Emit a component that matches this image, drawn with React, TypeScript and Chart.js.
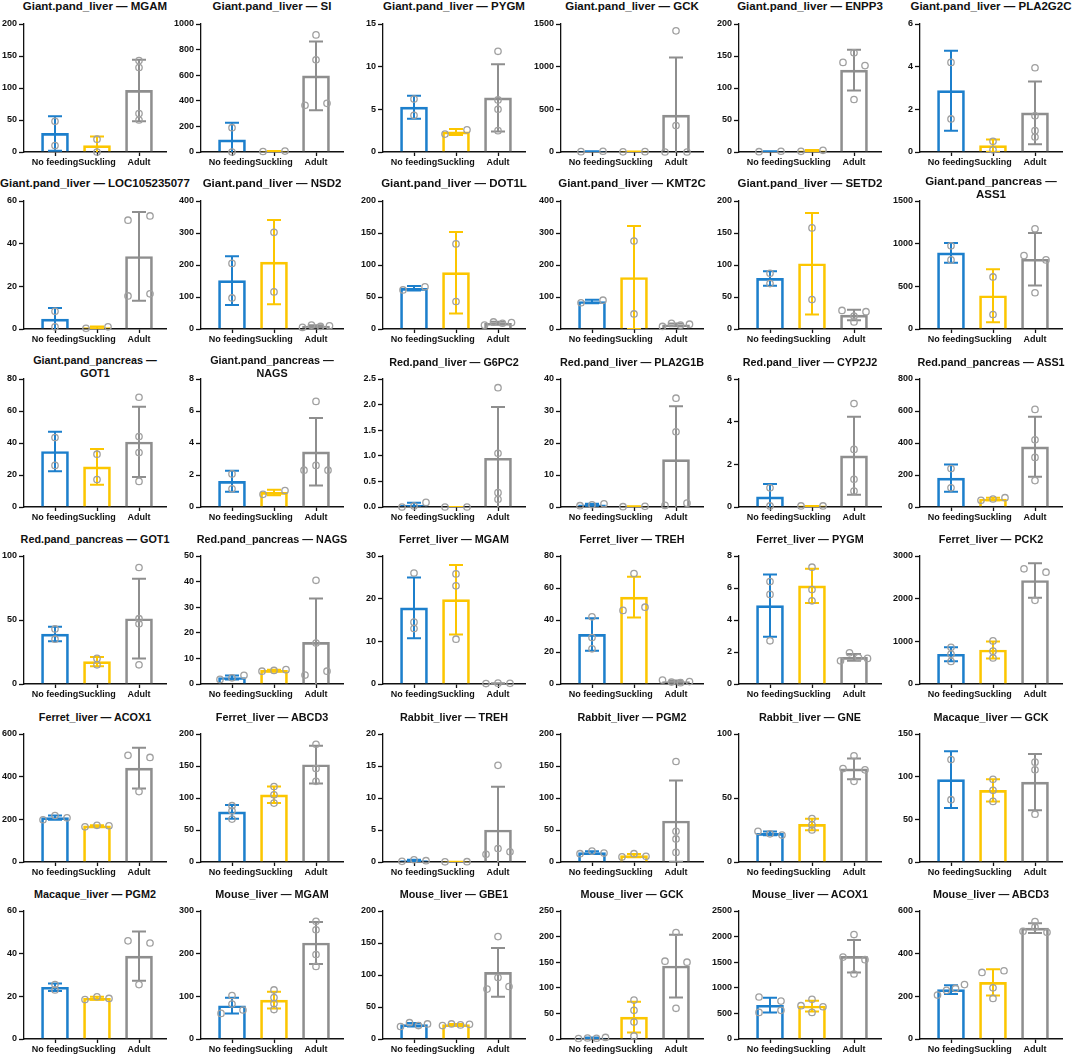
import { useEffect, useRef } from 'react';
import Chart from 'chart.js/auto';

// groups along the x axis
const GROUPS = ['No feeding', 'Suckling', 'Adult'];
const GROUP_COLORS = ['#1c7fcc', '#fcc600', '#8e8e8e'];
const POINT_COLOR = '#a0a0a0';

// one entry per panel, read left to right, top to bottom
const TISSUES = [
  'Giant.pand_liver', 'Giant.pand_liver', 'Giant.pand_liver', 'Giant.pand_liver', 'Giant.pand_liver', 'Giant.pand_liver',
  'Giant.pand_liver', 'Giant.pand_liver', 'Giant.pand_liver', 'Giant.pand_liver', 'Giant.pand_liver', 'Giant.pand_pancreas',
  'Giant.pand_pancreas', 'Giant.pand_pancreas', 'Red.pand_liver', 'Red.pand_liver', 'Red.pand_liver', 'Red.pand_pancreas',
  'Red.pand_pancreas', 'Red.pand_pancreas', 'Ferret_liver', 'Ferret_liver', 'Ferret_liver', 'Ferret_liver',
  'Ferret_liver', 'Ferret_liver', 'Rabbit_liver', 'Rabbit_liver', 'Rabbit_liver', 'Macaque_liver',
  'Macaque_liver', 'Mouse_liver', 'Mouse_liver', 'Mouse_liver', 'Mouse_liver', 'Mouse_liver',
];
const GENES = [
  'MGAM', 'SI', 'PYGM', 'GCK', 'ENPP3', 'PLA2G2C',
  'LOC105235077', 'NSD2', 'DOT1L', 'KMT2C', 'SETD2', 'ASS1',
  'GOT1', 'NAGS', 'G6PC2', 'PLA2G1B', 'CYP2J2', 'ASS1',
  'GOT1', 'NAGS', 'MGAM', 'TREH', 'PYGM', 'PCK2',
  'ACOX1', 'ABCD3', 'TREH', 'PGM2', 'GNE', 'GCK',
  'PGM2', 'MGAM', 'GBE1', 'GCK', 'ACOX1', 'ABCD3',
];
const Y_MAX = [
  200, 1000, 15, 1500, 200, 6,
  60, 400, 200, 400, 200, 1500,
  80, 8, 2.5, 40, 6, 800,
  100, 50, 30, 80, 8, 3000,
  600, 200, 20, 200, 100, 150,
  60, 300, 200, 250, 2500, 600,
];
const Y_STEP = [
  50, 200, 5, 500, 50, 2,
  20, 100, 50, 100, 50, 500,
  20, 2, 0.5, 10, 2, 200,
  50, 10, 10, 20, 2, 1000,
  200, 50, 5, 50, 50, 50,
  20, 100, 50, 50, 500, 200,
];

// individual samples per group
const NO_FEEDING: number[][] = [
  [48, 10], [190, 0], [6.2, 4.3], [4, 9], [0.5, 1.2], [4.2, 1.55],
  [8.3, 1], [205, 97], [61, 66], [82, 90], [87, 71], [975, 810],
  [43.4, 26], [2.07, 1.14], [0, 0.02, 0.09], [0.4, 0.7, 1.0], [0.9, 0.05], [240, 120],
  [43, 35], [1.8, 2.4, 3.4], [26, 14.5, 13], [42, 29, 22], [6.4, 5.6, 2.7], [860, 700, 530],
  [198, 218, 207], [88, 80, 67], [0.1, 0.35, 0.2], [13, 17, 14], [24, 22, 21], [120, 73],
  [25.5, 23], [60, 102, 68, 82], [19.5, 25.5, 21, 23.5], [1, 2, 1.5, 3], [520, 820, 740, 560], [206, 228, 237, 255],
];
const SUCKLING: number[][] = [
  [20, 0], [4, 7], [2.1, 2.6], [2, 4], [1, 2.6], [0.5, 0.1],
  [0.3, 1.0], [302, 116], [133, 43], [275, 47], [158, 46], [610, 170],
  [33, 17.2], [0.79, 1.03], [0, 0], [0.1, 0.2], [0.05, 0.05], [42, 50, 58],
  [20, 15], [5.0, 5.3, 5.6], [25.8, 23, 10.5], [46, 69, 48], [7.3, 5.9, 5.2], [1010, 770, 610],
  [165, 172, 170], [118, 105, 92], [0.03, 0.05], [8, 13, 9], [34, 29, 25], [97, 84, 71],
  [18.5, 19.8, 19], [115, 97, 83, 69], [21, 23.5, 22, 23], [76, 56, 33, 6], [775, 650, 520, 630], [190, 240, 312, 320],
];
const ADULT: number[][] = [
  [143, 132, 60, 50], [915, 720, 365, 380], [11.8, 6.1, 5.0, 2.5], [1420, 310, 0, 0], [140, 155, 135, 82], [3.95, 1.7, 1.0, 0.7],
  [51, 53, 15.5, 16.5], [5, 12, 8, 10], [6, 11, 9, 10], [8, 18, 12, 15], [29, 20, 11, 27], [860, 1175, 810, 425],
  [68.6, 44, 34, 16], [6.6, 2.3, 2.6, 2.3], [2.33, 1.05, 0.28, 0.15], [34, 23.5, 0.5, 1.2], [4.85, 2.7, 1.3, 0.75], [610, 420, 310, 165],
  [91, 51, 47, 15], [40.5, 16, 3.5, 5], [0.1, 0.2, 0.15], [2.5, 1.2, 0.8, 1.5], [1.45, 1.95, 1.65, 1.6], [2700, 1960, 2620],
  [500, 330, 490], [184, 146, 126], [1.2, 15.1, 2.1, 1.6], [157, 48, 36, 15], [73, 83, 63, 72], [117, 108, 56],
  [46, 25.5, 45], [276, 256, 198, 170], [160, 78, 96, 82], [208, 152, 60, 150], [1270, 2040, 1600, 1550], [505, 550, 525, 500],
];

const FONT = "'Liberation Sans', Arial, Helvetica, sans-serif";
const AXIS_X = [24, 201, 383, 561, 739, 920];
const ROW_H = 177.4;
const PLOT_TOP = 24;
const PLOT_W = 142;
const PLOT_H = 128;
const Y_AXIS_W = 30;
const PAD_TOP = 10;
const PAD_RIGHT = 8;
const X_AXIS_H = 22;
const FIRST_CENTER = 31; // px from the y axis to the first bar centre
const BAR_GAP = 42; // px between bar centres

const mean = (v: number[]) => v.reduce((a, b) => a + b, 0) / v.length;
const sd = (v: number[]) => {
  const m = mean(v);
  return Math.sqrt(v.reduce((a, b) => a + (b - m) ** 2, 0) / (v.length - 1));
};

// spread points that would overlap sideways, like a small beeswarm
function swarm(py: number[]): number[] {
  const order = py.map((_, i) => i).sort((a, b) => py[a] - py[b]);
  const offs = py.map(() => 0);
  let cluster = [order[0]];
  const flush = () => {
    const k = cluster.length;
    if (k < 2) return;
    const spread = k === 2 ? 11 : k === 3 ? 12 : 13.5;
    [...cluster].sort((a, b) => a - b).forEach((pi, j) => {
      offs[pi] = -spread + (2 * spread * j) / (k - 1);
    });
  };
  for (let n = 1; n < order.length; n++) {
    if (py[order[n]] - py[order[n - 1]] < 5) cluster.push(order[n]);
    else {
      flush();
      cluster = [order[n]];
    }
  }
  flush();
  return offs;
}

const errorAndPoints = {
  id: 'errorAndPoints',
  afterDatasetsDraw(chart: any, _args: any, opts: any) {
    const groups: number[][] = opts.groups;
    const { ctx, chartArea } = chart;
    const xs = chart.scales.x;
    const ys = chart.scales.y;

    ctx.save();
    ctx.beginPath();
    ctx.rect(chartArea.left, chartArea.top - 10, chartArea.right - chartArea.left + 10, chartArea.bottom - chartArea.top + 10);
    ctx.clip();
    ctx.lineWidth = 2;
    groups.forEach((vals, i) => {
      const m = mean(vals);
      const s = sd(vals);
      const cx = xs.getPixelForValue(i);
      const top = ys.getPixelForValue(m + s);
      const bot = ys.getPixelForValue(m - s);
      ctx.strokeStyle = GROUP_COLORS[i];
      ctx.beginPath();
      ctx.moveTo(cx, top);
      ctx.lineTo(cx, bot);
      ctx.moveTo(cx - 7, top);
      ctx.lineTo(cx + 7, top);
      ctx.moveTo(cx - 7, bot);
      ctx.lineTo(cx + 7, bot);
      ctx.stroke();
    });
    ctx.restore();

    ctx.save();
    ctx.strokeStyle = POINT_COLOR;
    ctx.lineWidth = 1.3;
    groups.forEach((vals, i) => {
      const cx = xs.getPixelForValue(i);
      const py = vals.map((v) => ys.getPixelForValue(v));
      const offs = swarm(py);
      py.forEach((y, j) => {
        ctx.beginPath();
        ctx.arc(cx + offs[j], y, 3.2, 0, Math.PI * 2);
        ctx.stroke();
      });
    });
    ctx.restore();
  },
};

function Panel({ idx }: { idx: number }) {
  const canvasRef = useRef<HTMLCanvasElement>(null);
  const row = Math.floor(idx / 6);
  const col = idx % 6;

  useEffect(() => {
    const canvas = canvasRef.current;
    if (!canvas) return;
    const groups = [NO_FEEDING[idx], SUCKLING[idx], ADULT[idx]];
    const step = Y_STEP[idx];

    const chart = new Chart(canvas, {
      type: 'bar',
      data: {
        datasets: [
          {
            data: groups.map((g, i) => ({ x: i, y: mean(g) })),
            backgroundColor: 'rgba(255,255,255,0)',
            borderColor: GROUP_COLORS,
            borderWidth: 2,
            barThickness: 27,
          },
        ],
      },
      options: {
        responsive: false,
        animation: false,
        events: [],
        layout: { autoPadding: false, padding: { top: PAD_TOP, right: PAD_RIGHT, left: 0, bottom: 0 } },
        plugins: {
          legend: { display: false },
          tooltip: { enabled: false },
          errorAndPoints: { groups },
        } as any,
        scales: {
          x: {
            type: 'linear',
            offset: false,
            min: -FIRST_CENTER / BAR_GAP,
            max: (PLOT_W - FIRST_CENTER) / BAR_GAP,
            afterBuildTicks: (s: any) => {
              s.ticks = GROUPS.map((_, i) => ({ value: i }));
            },
            afterFit: (s: any) => {
              s.height = X_AXIS_H;
            },
            ticks: {
              autoSkip: false,
              maxRotation: 0,
              minRotation: 0,
              padding: 1,
              color: '#111',
              font: { family: FONT, size: 9, weight: 'bold' },
              callback: (v: any) => GROUPS[v] ?? '',
            },
            grid: { offset: false, drawOnChartArea: false, drawTicks: true, tickLength: 4, tickColor: '#111', tickWidth: 1.3 },
            border: { color: '#111', width: 1.5 },
          },
          y: {
            type: 'linear',
            min: 0,
            max: Y_MAX[idx],
            afterFit: (s: any) => {
              s.width = Y_AXIS_W;
            },
            ticks: {
              stepSize: step,
              padding: 2,
              color: '#111',
              font: { family: FONT, size: 9, weight: 'bold' },
              callback: (v: any) => (step < 1 ? Number(v).toFixed(1) : String(v)),
            },
            grid: { drawOnChartArea: false, drawTicks: true, tickLength: 5, tickColor: '#111', tickWidth: 1.3 },
            border: { color: '#111', width: 1.3 },
          },
        },
      } as any,
      plugins: [errorAndPoints],
    });

    return () => chart.destroy();
  }, [idx]);

  const axisX = AXIS_X[col];
  const plotTop = row * ROW_H + PLOT_TOP;
  const tissue = TISSUES[idx];
  const wrap = tissue === 'Giant.pand_pancreas';
  const title = wrap ? `${tissue} —\n${GENES[idx]}` : `${tissue} — ${GENES[idx]}`;
  const titleCenter = row * ROW_H + (row < 2 ? 6 : 7.5);
  const lineH = 13;
  const titleTop = titleCenter - lineH / 2 - (wrap ? 2 : 0);
  const titleW = 210;

  return (
    <>
      <div
        style={{
          position: 'absolute',
          left: axisX + PLOT_W / 2 - titleW / 2,
          top: titleTop,
          width: titleW,
          textAlign: 'center',
          whiteSpace: 'pre',
          fontFamily: FONT,
          fontWeight: 'bold',
          fontSize: row < 2 ? 11.5 : 10.8,
          lineHeight: `${lineH}px`,
          color: '#111',
        }}
      >
        {title}
      </div>
      <canvas
        ref={canvasRef}
        width={Y_AXIS_W + PLOT_W + PAD_RIGHT}
        height={PAD_TOP + PLOT_H + X_AXIS_H}
        style={{
          position: 'absolute',
          left: axisX - Y_AXIS_W,
          top: plotTop - PAD_TOP,
          width: Y_AXIS_W + PLOT_W + PAD_RIGHT,
          height: PAD_TOP + PLOT_H + X_AXIS_H,
        }}
      />
    </>
  );
}

export default function App() {
  useEffect(() => {
    document.body.style.margin = '0';
  }, []);

  return (
    <div style={{ position: 'relative', width: 1072, height: 1057, background: '#fff', overflow: 'hidden' }}>
      {GENES.map((_, i) => (
        <Panel key={i} idx={i} />
      ))}
    </div>
  );
}
